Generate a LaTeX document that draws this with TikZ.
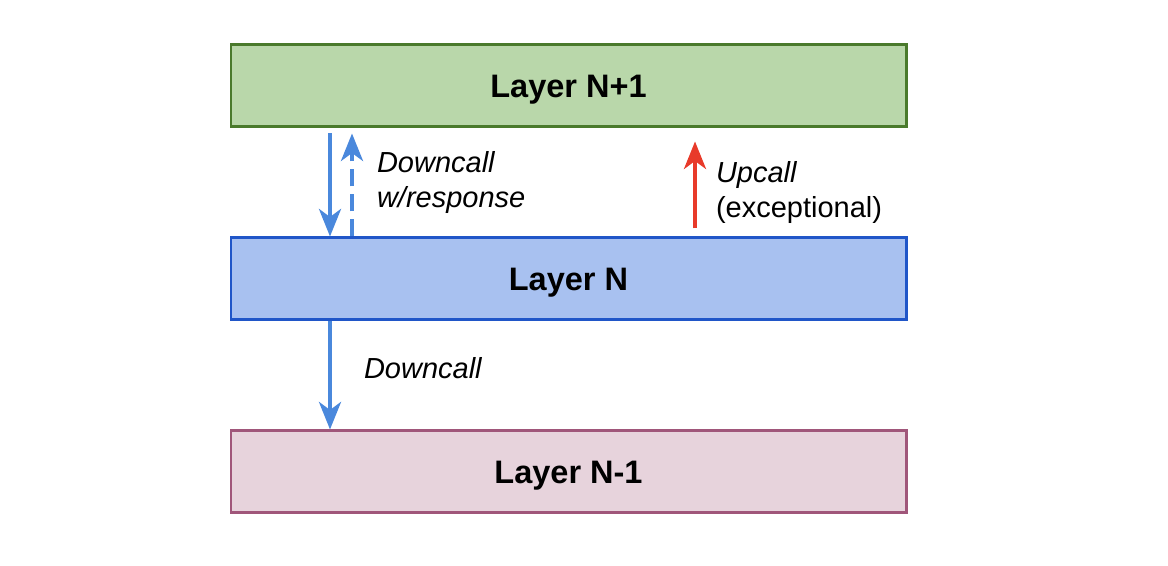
\documentclass[tikz,border=0pt]{standalone}
\usepackage{fontspec}
\setmainfont{Liberation Sans}
\usetikzlibrary{arrows.meta}
\usetikzlibrary{positioning}
\definecolor{greenfill}{HTML}{B9D7AA}
\definecolor{greenline}{HTML}{4A7A2C}
\definecolor{bluefill}{HTML}{A8C1F0}
\definecolor{blueline}{HTML}{2056C8}
\definecolor{pinkfill}{HTML}{E7D3DC}
\definecolor{pinkline}{HTML}{A0567A}
\definecolor{callblue}{HTML}{4A88DC}
\definecolor{callred}{HTML}{E83A2A}

\begin{document}
\begin{tikzpicture}[
  node distance=2.16cm,
  layer/.style={rectangle, line width=1.7pt,
    minimum width=13.5cm, minimum height=1.64cm,
    text height=16pt, text depth=2.6pt,
    font=\fontsize{18.5}{22}\selectfont\bfseries},
  upper/.style={layer, draw=greenline, fill=greenfill},
  middle/.style={layer, draw=blueline, fill=bluefill},
  lower/.style={layer, draw=pinkline, fill=pinkfill},
  arrow/.style={-{Stealth[length=5.5mm, width=4.4mm, inset=1.6mm]},
    line width=2.3pt, draw=callblue},
  redarrow/.style={arrow, draw=callred},
  lbl/.style={font=\fontsize{16.5}{20}\selectfont, align=left, inner sep=0pt},
]
\useasboundingbox (0,0) rectangle (23.36,11.32);

% === Layers ===
\node[upper] (layerUp) at (11.37,9.6) {Layer N+1};
\node[middle, below=of layerUp] (layerN) {Layer N};
\node[lower, below=of layerN] (layerDown) {Layer N-1};

% === Calls between N+1 and N ===
\draw[arrow, shorten <=0.1cm] ([xshift=-4.77cm]layerUp.south)
  -- ([xshift=-4.77cm]layerN.north);
\draw[arrow, dash pattern=on 0.34cm off 0.16cm, shorten >=0.1cm]
  ([xshift=-4.33cm]layerN.north) -- ([xshift=-4.33cm]layerUp.south)
  node[lbl, midway, right=0.46cm, yshift=0cm] (respLbl)
  {\itshape Downcall\\\itshape w/response};
\draw[redarrow, shorten <=0.16cm, shorten >=0.26cm]
  ([xshift=2.53cm]layerN.north) -- ([xshift=2.53cm]layerUp.south)
  node[lbl, midway, right=0.38cm, yshift=-0.2cm] (upLbl)
  {\itshape Upcall\\(exceptional)};

% === Call between N and N-1 ===
\draw[arrow] ([xshift=-4.77cm]layerN.south)
  -- ([xshift=-4.77cm]layerDown.north)
  node[lbl, midway, right=0.64cm, yshift=0.14cm] (downLbl) {\itshape Downcall};

\end{tikzpicture}
\end{document}
